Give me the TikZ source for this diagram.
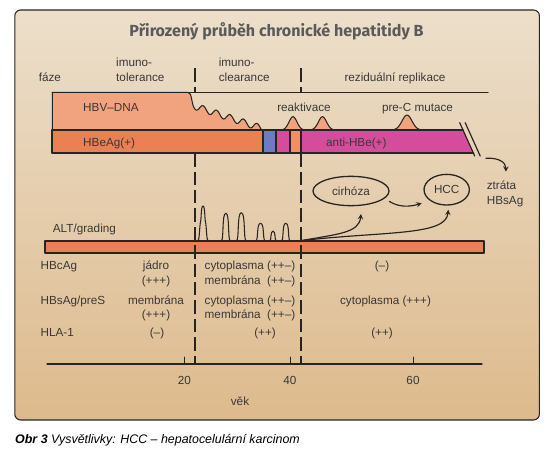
\documentclass[tikz,border=0pt]{standalone}
\usepackage{fontspec}
\setmainfont{Liberation Sans}
\newfontfamily\titlefont{Fira Sans}
\usetikzlibrary{shapes.geometric}
\definecolor{panelTop}{RGB}{236,223,203}
\definecolor{panelBot}{RGB}{221,186,141}
\definecolor{hbvcol}{RGB}{240,163,126}
\definecolor{hbecol}{RGB}{235,128,84}
\definecolor{bluecol}{RGB}{109,124,194}
\definecolor{magcol}{RGB}{213,76,156}
\definecolor{lightor}{RGB}{238,145,95}
\definecolor{inkcol}{RGB}{40,36,34}
\definecolor{txtcol}{RGB}{58,56,54}
\definecolor{titlecol}{RGB}{92,90,88}
\begin{document}
\begin{tikzpicture}[x=0.03cm,y=-0.03cm,line join=round,line cap=round,>=stealth,
    txt/.style={font=\fontsize{10}{12.8}\selectfont,text=txtcol,inner sep=0pt,text height=8pt,text depth=1pt},
    ink/.style={draw=inkcol,line width=#1},
    ink/.default=0.9pt,
    phase/.style={draw=inkcol,line width=1.7pt,line cap=butt,dash pattern=on 11.4pt off 4.3pt},
    bubble/.style={ellipse,draw=inkcol,line width=1.1pt,inner sep=0pt,font=\fontsize{10}{12}\selectfont,text=txtcol}]
    \useasboundingbox (0,0) rectangle (550,454);
    \def\bartop{130}
    \def\barbot{153.3}
    \def\altbase{240.7}
    \def\altbot{253.3}
    \shade[top color=panelTop,bottom color=panelBot,rounded corners=5pt] (14.8,10) rectangle (539.4,420);
    \draw[ink,rounded corners=5pt] (14.8,10) rectangle (539.4,420);
    \node[txt,font={\titlefont\bfseries\fontsize{13.7}{16}\selectfont},text=titlecol] (title) at (276.5,32) {Přirozený průběh chronické hepatitidy B};
    \foreach \px in {195,300.7}
        \draw[phase] (\px,68.3) -- (\px,92.3);
    \filldraw[fill=hbvcol,ink] (52.3,\bartop) -- (52.3,92.3) -- (188,92.3) .. controls (192,92.3) and (191.5,104) .. (194,107.5)
        -- plot[domain=194:261.5,samples=90] (\x,{106+(\x-194)*0.33-3.3*cos(26.667*(\x-203))}) -- (262.7,\bartop) -- cycle;
    \foreach \bc/\bh/\bw in {293/13.3/5.6,322.5/13.3/5.8,407/15/7}{
        \pgfmathsetmacro\lo{\bc-3*\bw}
        \pgfmathsetmacro\hi{\bc+3*\bw}
        \filldraw[fill=hbvcol,ink] plot[domain=\lo:\hi,samples=40,smooth] (\x,{\bartop-\bh*exp(-((\x-\bc)/\bw)^2)}) -- cycle;
    }
    \draw[ink=1.1pt] (52.3,92.3) -- (488,92.3);
    \fill[hbecol] (52.3,\bartop) rectangle (262.7,\barbot);
    \fill[bluecol] (262.7,\bartop) rectangle (276,\barbot);
    \fill[magcol] (276,\bartop) rectangle (290,\barbot);
    \fill[lightor] (290,\bartop) rectangle (300.7,\barbot);
    \fill[magcol] (300.7,\bartop) -- (463,\bartop) -- (473.5,\barbot) -- (300.7,\barbot) -- cycle;
    \draw[ink=1.4pt] (463,\bartop) -- (52.3,\bartop) -- (52.3,\barbot) -- (473.5,\barbot);
    \foreach \sx in {262.7,276,290,300.7}
        \draw[ink=1.4pt] (\sx,\bartop) -- (\sx,\barbot);
    \draw[ink=1pt] (459.7,122.7) -- (474.7,156) (465.2,122.7) -- (480.2,156);
    \filldraw[fill=hbecol,ink=1.4pt] (45,\altbase) rectangle (484,\altbot);
    \foreach \px in {195,300.7}
        \draw[phase] (\px,\barbot) -- (\px,364);
    \draw[ink] (197.8,\altbase) .. controls (199.6,\altbase) and (199.4,226) .. (200.6,221.5)
        .. controls (201.3,219) and (201,206) .. (203,206) .. controls (205,206) and (204.7,219) .. (205.4,221.5)
        .. controls (206.6,226) and (206.4,\altbase) .. (208.2,\altbase);
    \foreach \m/\w/\t in {225.8/9/213.3,241.3/9.8/212.7,260.5/9.4/223.3,273/6.5/231,285.8/8.8/223.3}
        \draw[ink] (\m-\w/2,\altbase) .. controls +(0.3*\w,0) and +(-0.45*\w,0) .. (\m,\t)
            .. controls +(0.45*\w,0) and +(-0.3*\w,0) .. (\m+\w/2,\altbase);
    \node[bubble,minimum width=2.28cm,minimum height=0.88cm] (cirh) at (351,191) {cirhóza};
    \node[bubble,minimum width=1.36cm,minimum height=0.92cm] (hcc) at (446.7,189.7) {HCC};
    \coordinate (altsrc) at (300.7,\altbase);
    \coordinate (slashend) at (486,158.3);
    \node[txt,anchor=west] (ztrA) at (486.6,185) {ztráta};
    \node[txt,anchor=west] (ztrB) at (486.6,200) {HBsAg};
    \draw[ink=1pt,->] (altsrc) .. controls (338,234) and (359,233) .. ([shift={(10,23)}]cirh.center);
    \draw[ink=1pt,->] (altsrc) .. controls (385,231) and (446,236) .. ([shift={(1.6,20)}]hcc.center);
    \draw[ink=1pt,->] ([shift={(38.5,10.5)}]cirh.center) .. controls (400,208) and (411,206.5) .. ([shift={(-25,13.5)}]hcc.center);
    \draw[ink=1pt,->] (slashend) .. controls (498,157.5) and (506,162) .. ([shift={(4.4,-13.3)}]ztrA.center);
    \node[txt,anchor=west] (faze) at (38.6,77) {fáze};
    \node[txt,anchor=west] (imtolA) at (116,62) {imuno-};
    \node[txt,anchor=west] (imtolB) at (116,77) {tolerance};
    \node[txt,anchor=west] (imclA) at (218.6,62) {imuno-};
    \node[txt,anchor=west] (imclB) at (218.6,77) {clearance};
    \node[txt] (rezid) at (395,77) {reziduální replikace};
    \node[txt,anchor=west] (hbvlab) at (83,107) {HBV–DNA};
    \node[txt] (reakt) at (304,107) {reaktivace};
    \node[txt] (prec) at (417.5,107) {pre-C mutace};
    \node[txt,anchor=west] (hbelab) at (83,142.5) {HBeAg(+)};
    \node[txt,anchor=west] (antilab) at (326,142) {anti-HBe(+)};
    \node[txt,anchor=west] (alt) at (52.7,228.3) {ALT/grading};
    \node[txt,anchor=west] (hbcag) at (40.4,265) {HBcAg};
    \node[txt,anchor=west] (hbsag) at (40.4,300) {HBsAg/preS};
    \node[txt,anchor=west] (hla) at (40.4,332.7) {HLA-1};
    \node[txt] (jadro) at (156,265) {jádro};
    \node[txt] (jadroP) at (156,280.7) {(+++)};
    \node[txt] (membr) at (156,300) {membrána};
    \node[txt] (membrP) at (156,314.3) {(+++)};
    \node[txt] (hlaA) at (157,332.7) {(–)};
    \node[txt,anchor=west] (cytA) at (204.5,265) {cytoplasma};
    \node[txt,anchor=west] (memA) at (204.5,280.7) {membrána};
    \node[txt,anchor=west] (cytB) at (204.5,300) {cytoplasma};
    \node[txt,anchor=west] (memB) at (204.5,314.3) {membrána};
    \foreach \py/\pn in {265/pa,280.7/pb,300/pc,314.3/pd}
        \node[txt,anchor=west] (\pn) at (267,\py) {(++–)};
    \node[txt] (hlaB) at (265,332.7) {(++)};
    \node[txt] (hbcC) at (382,265) {(–)};
    \node[txt] (cytC) at (385.5,300) {cytoplasma (+++)};
    \node[txt] (hlaC) at (382,332.7) {(++)};
    \draw[ink] (47,364) -- (482,364);
    \foreach \tx/\tl in {184.5/20,290/40,413/60}{
        \draw[ink=0.8pt] (\tx,357) -- (\tx,364);
        \node[txt] (age\tl) at (\tx,380) {\tl};
    }
    \node[txt] (vek) at (240,401.7) {věk};
    \node[anchor=west,inner sep=0pt,font=\fontsize{10.6}{12}\selectfont\itshape] (caption) at (15,440) {\textbf{Obr 3} Vysvětlivky: HCC – hepatocelulární karcinom};
\end{tikzpicture}
\end{document}
